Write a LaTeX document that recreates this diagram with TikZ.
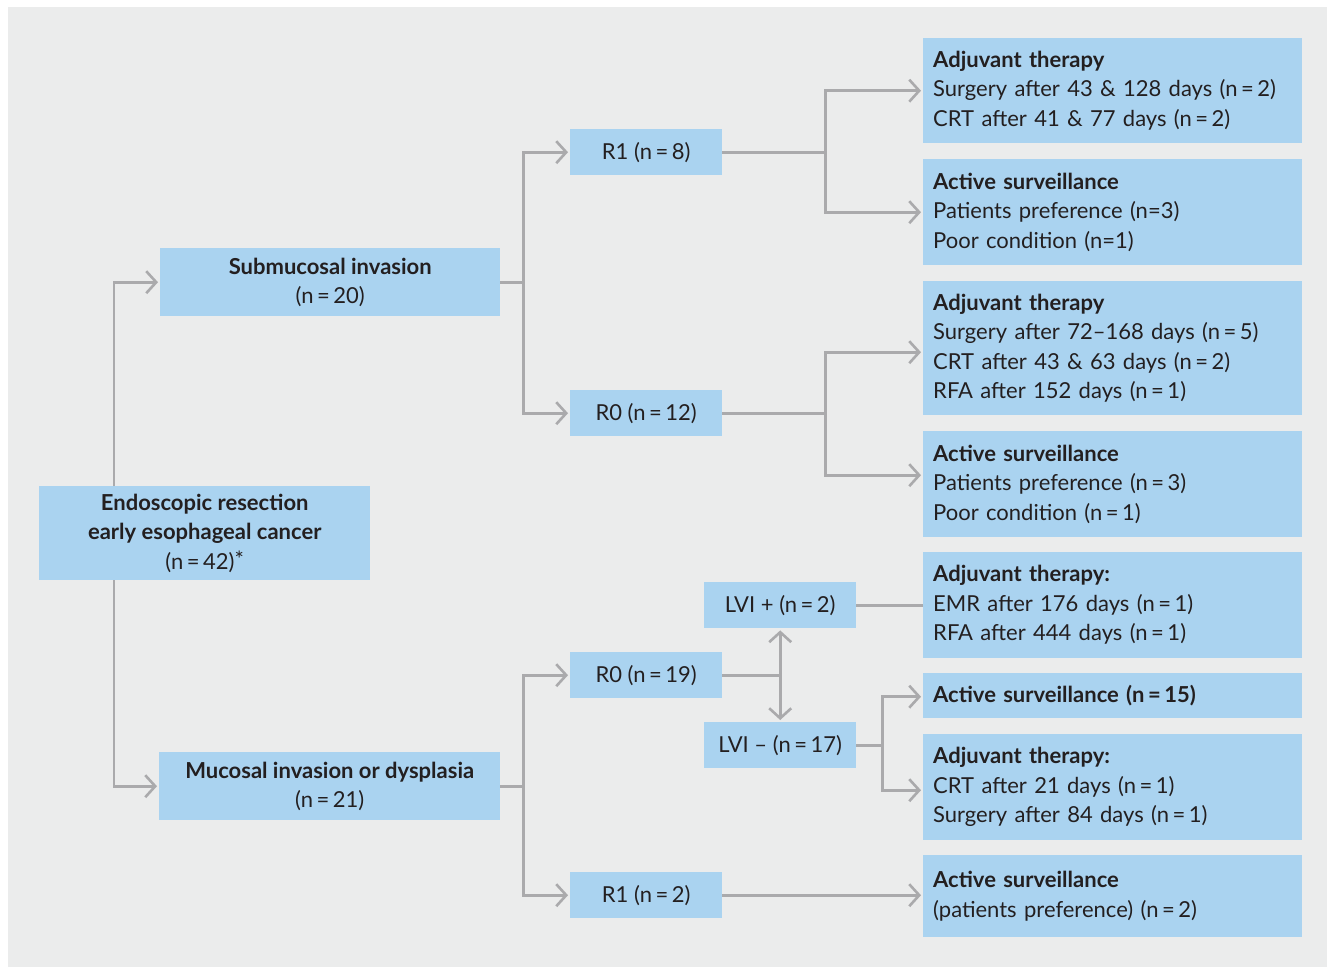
\documentclass[tikz,border=0pt]{standalone}
\usepackage{fontspec}
\setmainfont{Lato}
\usetikzlibrary{arrows.meta}
\definecolor{bg}{RGB}{235,236,236}
\definecolor{boxc}{RGB}{170,211,240}
\definecolor{linec}{RGB}{170,170,172}
\definecolor{txt}{RGB}{35,31,32}
\newcommand{\myeq}{\hspace{3.5pt}=\hspace{3.5pt}}
\begin{document}
\begin{tikzpicture}[x=1pt,y=-1pt,
  box/.style={fill=boxc, text=txt, inner xsep=10pt, inner ysep=0pt,
    font=\fontsize{22}{29.5}\selectfont, anchor=north west},
  small/.style={box, minimum width=152pt, minimum height=46pt},
  wide/.style={box, minimum width=379pt, text width=359pt, align=left},
  conn/.style={draw=linec, line width=2.6pt},
  arr/.style={conn, -{Straight Barb[length=10pt,width=22pt]}, shorten >=2pt}]
\useasboundingbox (0,0) rectangle (1327,967);
\fill[bg] (8,7) rectangle (1327,967);

% left column
\node[box, minimum width=331pt, minimum height=94pt, align=center] (root) at (39,486)
  {\textbf{Endoscopic resection}\\\textbf{early esophageal cancer}\\(n\myeq 42)\raisebox{2pt}{\fontsize{22}{22}\selectfont *}};
\node[box, minimum width=340pt, minimum height=68pt, align=center] (sub) at (160,248)
  {\textbf{Submucosal invasion}\\(n\myeq 20)};
\node[box, minimum width=341pt, minimum height=68pt, align=center] (muc) at (159,752)
  {\textbf{Mucosal invasion or dysplasia}\\(n\myeq 21)};

% middle
\node[small] (r1a) at (570,129) {R1 (n\myeq 8)};
\node[small] (r0a) at (570,390) {R0 (n\myeq 12)};
\node[small] (r0b) at (570,652) {R0 (n\myeq 19)};
\node[small] (r1b) at (570,872) {R1 (n\myeq 2)};
\node[small] (lvip) at (704,582) {LVI + (n\myeq 2)};
\node[small] (lvim) at (704,722) {LVI -- (n\myeq 17)};

% right column
\node[wide, minimum height=105pt] (a1) at (923,38)
  {\textbf{Adjuvant therapy}\\Surgery after 43 \& 128 days (n\myeq 2)\\CRT after 41 \& 77 days (n\myeq 2)};
\node[wide, minimum height=106pt] (a2) at (923,159)
  {\textbf{Active surveillance}\\Patients preference (n=3)\\Poor condition (n=1)};
\node[wide, minimum height=134pt] (a3) at (923,281)
  {\textbf{Adjuvant therapy}\\Surgery after 72--168 days (n\myeq 5)\\CRT after 43 \& 63 days (n\myeq 2)\\RFA after 152 days (n\myeq 1)};
\node[wide, minimum height=106pt] (a4) at (923,431)
  {\textbf{Active surveillance}\\Patients preference (n\myeq 3)\\Poor condition (n\myeq 1)};
\node[wide, minimum height=106pt] (a5) at (923,552)
  {\textbf{Adjuvant therapy:}\\EMR after 176 days (n\myeq 1)\\RFA after 444 days (n\myeq 1)};
\node[wide, minimum height=45pt] (a6) at (923,673)
  {\textbf{Active surveillance (n\myeq 15)}};
\node[wide, minimum height=106pt] (a7) at (923,734)
  {\textbf{Adjuvant therapy:}\\CRT after 21 days (n\myeq 1)\\Surgery after 84 days (n\myeq 1)};
\node[wide, minimum height=82pt] (a8) at (923,855)
  {\textbf{Active surveillance}\\(patients preference) (n\myeq 2)};

% connectors
\draw[arr] ([xshift=75pt]root.north west) |- (sub.west);
\draw[arr] ([xshift=75pt]root.south west) |- (muc.west);

\draw[conn] (sub.east) -- ++(23,0) coordinate (sj);
\draw[arr] (sj) |- (r1a.west);
\draw[arr] (sj) |- (r0a.west);

\draw[conn] (muc.east) -- ++(23,0) coordinate (mj);
\draw[arr] (mj) |- (r0b.west);
\draw[arr] (mj) |- (r1b.west);

\draw[conn] (r1a.east) -- ++(103,0) coordinate (j1);
\draw[arr] (j1) |- (a1.west);
\draw[arr] (j1) |- (a2.west);

\draw[conn] (r0a.east) -- ++(103,0) coordinate (j2);
\draw[arr] (j2) |- ([yshift=-4pt]a3.west);
\draw[arr] (j2) |- ([yshift=9pt]a4.west);

\draw[conn] (r0b.east) -- (r0b.east -| lvip.south);
\draw[conn, {Straight Barb[length=10pt,width=22pt]}-{Straight Barb[length=10pt,width=22pt]}, shorten <=2pt, shorten >=2pt] (lvip.south) -- (lvim.north);
\draw[conn] (lvip.east) -- (lvip.east -| a5.west);

\draw[conn] (lvim.east) -- ++(26,0) coordinate (j3);
\draw[arr] (j3) |- ([yshift=-1pt]a6.west);
\draw[arr] (j3) |- ([yshift=-3pt]a7.west);

\draw[arr] (r1b.east) -- (r1b.east -| a8.west);
\end{tikzpicture}
\end{document}
